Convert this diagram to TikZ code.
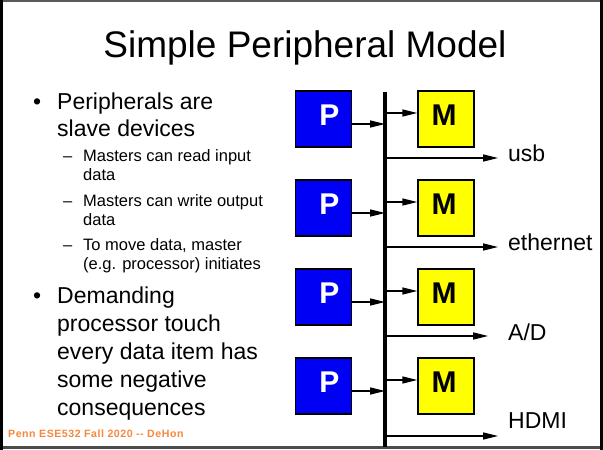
\documentclass[tikz,border=0pt]{standalone}
\usepackage{fontspec}
\setmainfont{Liberation Sans}
\usetikzlibrary{arrows.meta}
\definecolor{pblue}{RGB}{0,0,245}
\definecolor{myellow}{RGB}{255,255,0}
\definecolor{footorange}{RGB}{247,135,60}
\newfontfamily\footfont[LetterSpace=5]{Liberation Sans}
\begin{document}
\begin{tikzpicture}[x=1pt,y=-1pt,
  unitbox/.style={draw=black,line width=1.2pt,minimum size=56pt,inner sep=0pt},
  letter/.style={inner sep=0pt,font=\fontsize{30}{30}\selectfont\bfseries},
  pbox/.style={unitbox,fill=pblue},
  mbox/.style={unitbox,fill=myellow},
  arr/.style={line width=1.3pt,-{Triangle[length=15pt,width=7pt]}},
  buslabel/.style={anchor=base west,inner sep=0pt,font=\fontsize{23}{23}\selectfont},
  bigtext/.style={anchor=base west,inner sep=0pt,font=\fontsize{23}{27.6}\selectfont},
  subtext/.style={anchor=base west,inner sep=0pt,font=\fontsize{16.5}{19}\selectfont}]
\useasboundingbox (0,0) rectangle (603,450);
\fill[white] (0,0) rectangle (603,450);
% slide frame
\draw[line width=2pt,gray!70!black] (0,1) -- (603,1);
\draw[line width=2.5pt,gray!60!black] (0,447.5) -- (603,447.5);
\draw[line width=3pt,black] (1.5,0) -- (1.5,450);
\draw[line width=3pt,black] (601.5,0) -- (601.5,450);

% title
\node[anchor=base,inner sep=0pt,font=\fontsize{37}{37}\selectfont] (title) at (305,57) {Simple Peripheral Model};

% bullet text
\node[bigtext] (b1) at (33,109) {•};
\node[bigtext] (t1a) at (57,109) {Peripherals are};
\node[bigtext] (t1b) at (57,136) {slave devices};
\node[subtext] (d1) at (63,161) {–};
\node[subtext] (s1a) at (83,161) {Masters can read input};
\node[subtext] (s1b) at (83,180) {data};
\node[subtext] (d2) at (63,206) {–};
\node[subtext] (s2a) at (83,206) {Masters can write output};
\node[subtext] (s2b) at (83,225) {data};
\node[subtext] (d3) at (63,250) {–};
\node[subtext] (s3a) at (83,250) {To move data, master};
\node[subtext] (s3b) at (83,269) {(e.g. processor) initiates};
\node[bigtext] (b2) at (33,303) {•};
\node[bigtext] (t2a) at (57,303) {Demanding};
\node[bigtext] (t2b) at (57,331) {processor touch};
\node[bigtext] (t2c) at (57,359) {every data item has};
\node[bigtext] (t2d) at (57,387) {some negative};
\node[bigtext] (t2e) at (57,415) {consequences};

% footer
\node[anchor=base west,inner sep=0pt,text=footorange,font=\footfont\fontsize{10.6}{10.6}\selectfont\bfseries] (foot) at (8,437) {Penn ESE532 Fall 2020 {-}{-} DeHon};

% bus ends
\coordinate (bt) at (385,92);
\coordinate (bb) at (385,447);

% processors and memories
\foreach \i/\top in {1/91,2/180,3/269,4/358}{
  \node[pbox] (P\i) at (323.5,\top+28) {};
  \node[mbox] (M\i) at (446,\top+28) {};
  \node[letter,text=white] (Pl\i) at ([xshift=6pt,yshift=4pt]P\i.center) {P};
  \node[letter,text=black] (Ml\i) at ([xshift=-2pt,yshift=4pt]M\i.center) {M};
  \draw[arr] ([yshift=-5pt]P\i.east) -- ([yshift=-5pt]P\i.east -| bt);
  \draw[arr] ([yshift=6pt]M\i.west -| bt) -- ([yshift=6pt]M\i.west);
}

% outgoing links
\coordinate (o1) at (498,158);
\coordinate (o2) at (498,247);
\coordinate (o3) at (488,336);
\coordinate (o4) at (498,436);
\foreach \k in {1,...,4}{
  \draw[arr] (o\k -| bt) -- (o\k);
}
\node[buslabel] (usb) at (508,161) {usb};
\node[buslabel] (eth) at (508,250) {ethernet};
\node[buslabel] (ad) at (508,340) {A/D};
\node[buslabel] (hdmi) at (508,428) {HDMI};

% bus
\draw[line width=4pt] (bt) -- (bb);
\end{tikzpicture}
\end{document}
